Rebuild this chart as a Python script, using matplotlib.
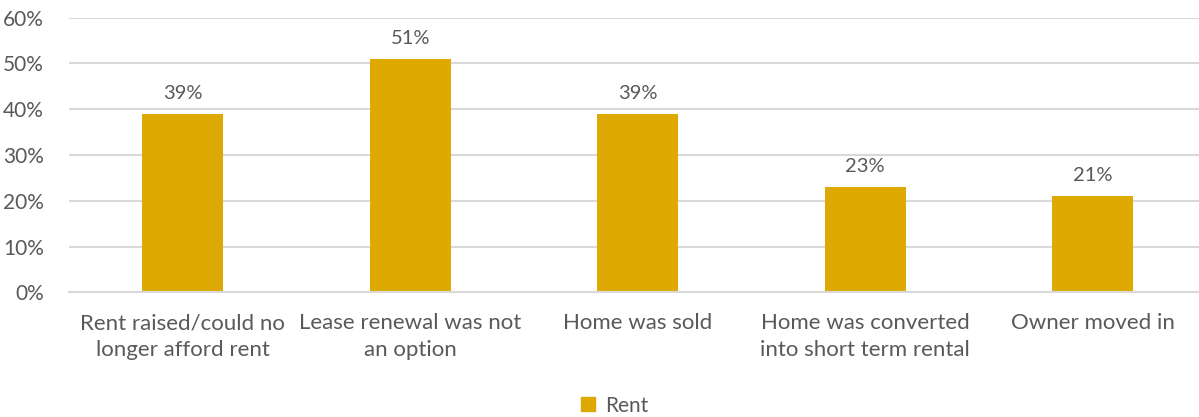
import matplotlib

matplotlib.use("Agg")

import matplotlib.pyplot as plt
from matplotlib.patches import Patch
from matplotlib.ticker import PercentFormatter

reasons = [
    "Rent raised/could no\nlonger afford rent",
    "Lease renewal was not\nan option",
    "Home was sold",
    "Home was converted\ninto short term rental",
    "Owner moved in",
]
rent_pct = [39, 51, 39, 23, 21]
y_ticks = [0, 10, 20, 30, 40, 50, 60]

BAR = "#DEA903"
TEXT = "#595959"
GRID = "#D9D9D9"

plt.rcParams["font.family"] = ["Lato", "DejaVu Sans"]

fig = plt.figure(figsize=(11.99, 4.17), dpi=100)
ax = fig.add_axes((69 / 1199, 0.299, 1137.5 / 1199, 0.6586))

x = range(len(reasons))
bars = ax.bar(x, rent_pct, width=0.354, color=BAR, zorder=2)
for b, v in zip(bars, rent_pct):
    ax.text(b.get_x() + b.get_width() / 2, v + 2.6, f"{v}%",
            ha="center", va="bottom", fontsize=14.5, color=TEXT)

ax.set_xlim(-0.5, len(reasons) - 0.5)
ax.set_ylim(0, 60)
ax.set_yticks(y_ticks)
ax.yaxis.set_major_formatter(PercentFormatter(decimals=0))
ax.set_xticks(list(x))
ax.set_xticklabels(reasons, fontsize=16, color=TEXT, linespacing=1.4)
ax.tick_params(axis="y", labelsize=15, labelcolor=TEXT, length=0, pad=18)
ax.tick_params(axis="x", length=0, pad=15)

ax.grid(axis="y", color=GRID, linewidth=1.5, zorder=0)
for side in ("top", "right", "left"):
    ax.spines[side].set_visible(False)
ax.spines["bottom"].set_color(GRID)
ax.spines["bottom"].set_linewidth(1.5)

fig.legend(handles=[Patch(color=BAR, label="Rent")], loc="center",
           bbox_to_anchor=(0.513, 0.027), frameon=False, fontsize=15,
           labelcolor=TEXT, handlelength=0.65, handleheight=0.65, handletextpad=0.5)

fig.savefig("out.png", dpi=100)
